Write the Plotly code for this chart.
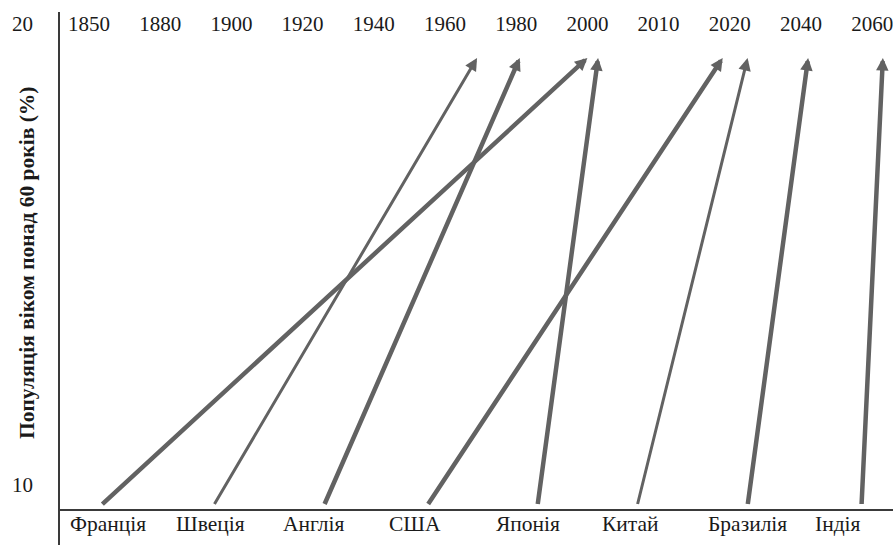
import numpy as np
import plotly.graph_objects as go

# ---- data ----
year_ticks = [1850, 1880, 1900, 1920, 1940, 1960, 1980, 2000, 2010, 2020, 2040, 2060]
countries = ["Франція", "Швеція", "Англія", "США", "Японія", "Китай", "Бразилія", "Індія"]
# year when the share of population aged 60+ reached 10% and 20%
year_10pct = [1855, 1895, 1926, 1955, 1986, 2007, 2025, 2057]
year_20pct = [2000, 1969, 1981, 2019, 2001.5, 2025, 2042, 2063]
share_start = 10
share_end = 20

# ---- styles ----
FONT = "Liberation Serif, Times New Roman, serif"
TEXT_COLOR = "#1a1a1a"
ARROW_COLOR = "#626262"
line_w = [4.5, 3, 4.5, 4.5, 4.5, 3, 4.5, 4.5]
HEAD_SCALE = 2.5

W, H = 893, 545
ML, MR, MT, MB = 59, 0, 40, 36
AXIS_TOP = 12  # pixel where the vertical axis line starts
PLOT_H = H - MT - MB


def year_to_slot(y):
    """Piecewise-linear position of a year on the (non-uniform) year tick scale."""
    xs = np.arange(len(year_ticks), dtype=float)
    yt = np.array(year_ticks, dtype=float)
    if y <= yt[0]:
        return xs[0] + (y - yt[0]) / (yt[1] - yt[0])
    if y >= yt[-1]:
        return xs[-1] + (y - yt[-1]) / (yt[-1] - yt[-2])
    return float(np.interp(y, yt, xs))


slot_px = 71.2
x_range = [-(89 - ML) / slot_px, (W - 89) / slot_px]
px_per_unit = 44.75
bottom_px = H - MB
y_range = [share_start - (bottom_px - 505.5) / px_per_unit,
           share_start + (505.5 - MT) / px_per_unit]

fig = go.Figure()
# invisible traces to anchor the axes
fig.add_trace(go.Scatter(x=[x_range[0]], y=[share_start], mode="markers",
                         marker=dict(opacity=0), hoverinfo="skip", showlegend=False))
fig.add_trace(go.Scatter(x=[x_range[0]], y=[share_start], mode="markers", xaxis="x2",
                         marker=dict(opacity=0), hoverinfo="skip", showlegend=False))

annotations = []
for i, c in enumerate(countries):
    annotations.append(dict(
        x=year_to_slot(year_20pct[i]), y=share_end, xref="x", yref="y",
        ax=year_to_slot(year_10pct[i]), ay=share_start, axref="x", ayref="y",
        showarrow=True, arrowhead=2, arrowwidth=line_w[i],
        arrowsize=HEAD_SCALE / line_w[i], arrowcolor=ARROW_COLOR,
        text="", standoff=0, startstandoff=0,
    ))

# country labels (left aligned at evenly spaced slots)
for i, c in enumerate(countries):
    annotations.append(dict(
        x=(68 + 106.4 * i - ML) / (W - ML - MR), y=0, xref="paper", yref="paper",
        xanchor="left", yanchor="middle", yshift=-15, text=c, showarrow=False,
        font=dict(family=FONT, size=21.5, color=TEXT_COLOR),
    ))

# y value labels
for v, shift in [(share_start, 21), (share_end, 34)]:
    annotations.append(dict(
        x=0, y=v, xref="paper", yref="y", xanchor="center", yanchor="middle",
        xshift=-37, yshift=shift, text=str(v), showarrow=False,
        font=dict(family=FONT, size=21, color=TEXT_COLOR),
    ))

# axis title
annotations.append(dict(
    x=0, y=(bottom_px - 263) / PLOT_H, xref="paper", yref="paper",
    xanchor="center", yanchor="middle",
    xshift=-32, textangle=-90, showarrow=False,
    text="<b>Популяція віком понад 60 років (%)</b>",
    font=dict(family=FONT, size=21.5, color=TEXT_COLOR),
))

fig.update_layout(
    width=W, height=H, autosize=False,
    margin=dict(l=ML, r=MR, t=MT, b=MB, pad=0),
    paper_bgcolor="white", plot_bgcolor="white",
    showlegend=False,
    xaxis=dict(range=x_range, showgrid=False, zeroline=False, showticklabels=False,
               ticks="", showline=True, linecolor="#3a3a3a", linewidth=2, fixedrange=True),
    xaxis2=dict(range=x_range, overlaying="x", side="top", showgrid=False, zeroline=False,
                tickmode="array", tickvals=list(range(len(year_ticks))),
                ticktext=[str(y) for y in year_ticks], ticks="",
                ticklabelposition="outside", ticklabelstandoff=4,
                ticklabeloverflow="allow", showline=False,
                tickfont=dict(family=FONT, size=21, color=TEXT_COLOR), fixedrange=True),
    yaxis=dict(range=y_range, showgrid=False, zeroline=False, showticklabels=False,
               ticks="", showline=False, fixedrange=True),
    annotations=annotations,
    shapes=[dict(type="line", xref="paper", yref="paper", x0=0, x1=0,
                 y0=-MB / PLOT_H, y1=1 + (MT - AXIS_TOP) / PLOT_H,
                 line=dict(color="#3a3a3a", width=2))],
)

fig.write_html("out.html", config={"displayModeBar": False},
               post_script="document.body.style.margin='0';document.body.style.overflow='hidden';")
